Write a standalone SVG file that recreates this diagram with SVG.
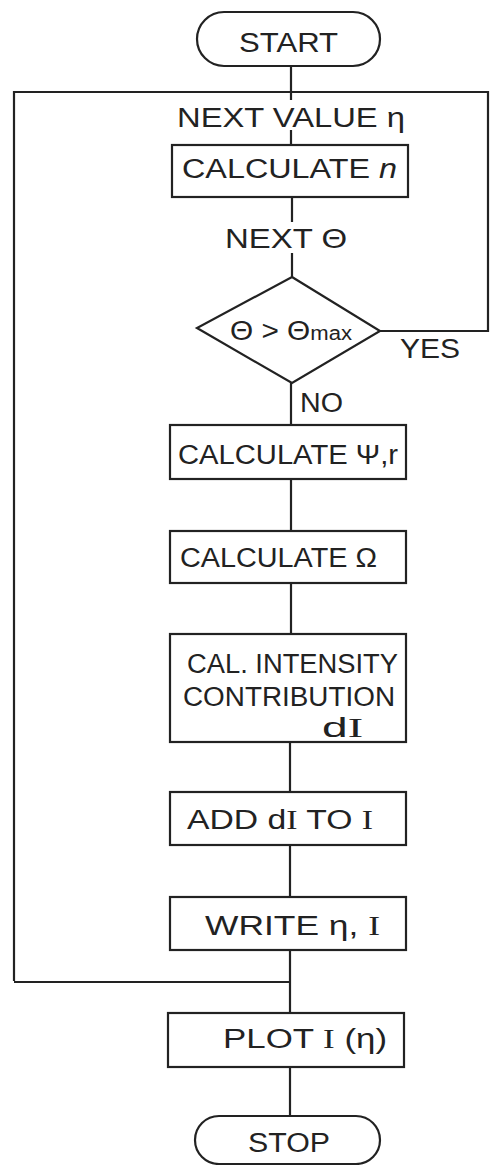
<svg xmlns="http://www.w3.org/2000/svg" width="495" height="1165" viewBox="0 0 495 1165">
<style>
.s{fill:none;stroke:#222;stroke-width:2.2}
.t{font-family:"Liberation Sans",Arial,sans-serif;font-size:27px;fill:#222}
.i{font-family:"Liberation Serif","Times New Roman",serif}
</style>
<rect width="495" height="1165" fill="#fff"/>
<g id="connectors" class="s">
<path d="M291 66V100M291 130V145"/>
<path d="M14 981V92H488V331H380"/>
<path d="M292 197V222M292 253V277"/>
<path d="M291 383V425"/>
<path d="M291 479V531"/>
<path d="M291 583V634"/>
<path d="M290 742V792"/>
<path d="M290 845V897"/>
<path d="M290 950V1013"/>
<path d="M14 982H290"/>
<path d="M290 1067V1116"/>
</g>
<g id="start"><rect class="s" x="197" y="12" width="183" height="54" rx="27"/><text class="t" x="239" y="52" textLength="99" lengthAdjust="spacingAndGlyphs">START</text></g>
<g id="label-next-eta"><text class="t" x="177" y="127" textLength="228" lengthAdjust="spacingAndGlyphs">NEXT VALUE η</text></g>
<g id="calc-n"><rect class="s" x="172" y="145" width="236" height="52"/><text class="t" x="182" y="178" textLength="215" lengthAdjust="spacingAndGlyphs">CALCULATE <tspan font-style="italic">n</tspan></text></g>
<g id="label-next-theta"><text class="t" x="225" y="248" textLength="122" lengthAdjust="spacingAndGlyphs">NEXT Θ</text></g>
<g id="decision"><path class="s" d="M292 277L380 331L292 383L197 328Z"/><text class="t" x="230" y="340" textLength="122" lengthAdjust="spacingAndGlyphs">Θ &gt; Θ<tspan font-size="20">max</tspan></text></g>
<g id="label-yes"><text class="t" x="400" y="358" textLength="60" lengthAdjust="spacingAndGlyphs" font-size="25">YES</text></g>
<g id="label-no"><text class="t" x="300" y="412" textLength="43" lengthAdjust="spacingAndGlyphs" font-size="25">NO</text></g>
<g id="calc-psi"><rect class="s" x="170" y="425" width="236" height="54"/><text class="t" x="178" y="464" textLength="220" lengthAdjust="spacingAndGlyphs">CALCULATE Ψ,r</text></g>
<g id="calc-omega"><rect class="s" x="170" y="531" width="236" height="52"/><text class="t" x="180" y="567" textLength="197" lengthAdjust="spacingAndGlyphs">CALCULATE Ω</text></g>
<g id="calc-intensity"><rect class="s" x="170" y="634" width="236" height="108"/>
<text class="t" x="187" y="673" font-size="25" textLength="211" lengthAdjust="spacingAndGlyphs">CAL. INTENSITY</text>
<text class="t" x="183" y="706" font-size="25" textLength="212" lengthAdjust="spacingAndGlyphs">CONTRIBUTION</text>
<text class="t" x="322" y="737" font-size="25" textLength="41" lengthAdjust="spacingAndGlyphs">d<tspan class="i">I</tspan></text></g>
<g id="add"><rect class="s" x="170" y="792" width="236" height="53"/><text class="t" x="187" y="829" textLength="186" lengthAdjust="spacingAndGlyphs">ADD d<tspan class="i">I</tspan> TO <tspan class="i">I</tspan></text></g>
<g id="write"><rect class="s" x="170" y="897" width="236" height="53"/><text class="t" x="205" y="935" textLength="175" lengthAdjust="spacingAndGlyphs">WRITE η, <tspan class="i">I</tspan></text></g>
<g id="plot"><rect class="s" x="168" y="1013" width="236" height="54"/><text class="t" x="223" y="1048" textLength="164" lengthAdjust="spacingAndGlyphs">PLOT <tspan class="i">I</tspan> (η)</text></g>
<g id="stop"><rect class="s" x="195" y="1116" width="185" height="48" rx="24"/><text class="t" x="248" y="1152" textLength="82" lengthAdjust="spacingAndGlyphs">STOP</text></g>
</svg>
